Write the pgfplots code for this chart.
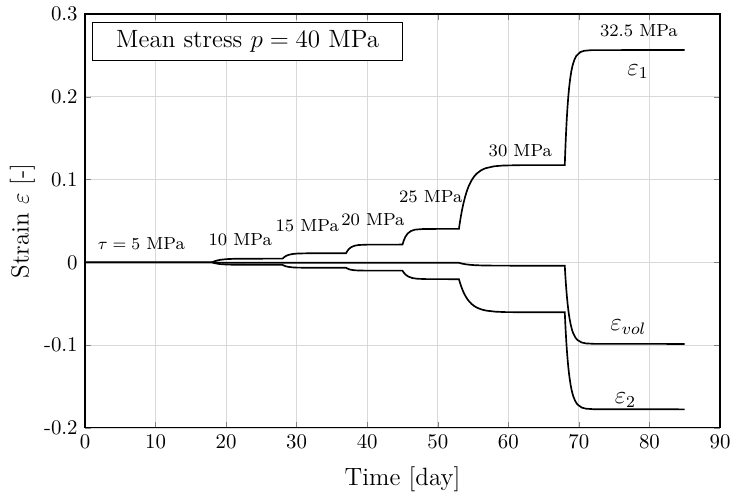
\documentclass[border=0pt]{standalone}
\usepackage{pgfplots}
\pgfplotsset{compat=1.18}
\begin{document}
\begin{tikzpicture}
\begin{axis}[
  scale only axis, width=304.8pt, height=198.7pt,
  xmin=0, xmax=90, ymin=-0.2, ymax=0.3,
  xtick={0,10,...,90},
  ytick={-0.2,-0.1,0,0.1,0.2,0.3},
  yticklabels={-0.2,-0.1,0,0.1,0.2,0.3},
  grid=major, grid style={line width=0.4pt, draw=gray!30},
  tick align=inside, major tick length=2.9pt,
  axis line style={line width=0.5pt},
  xlabel={Time [day]}, ylabel={Strain $\varepsilon$ [-]},
  xlabel shift=2pt, ylabel shift=-2.5pt,
  label style={font=\large},
  tick label style={font=\normalsize},
]
\addplot[black, line width=0.8pt] coordinates {
(0,0) (18,0) (18.3,0.00117) (18.7,0.00227) (19.2,0.00314) (20,0.00389) (21,0.00428) (23,0.00447) (28,0.0045)
(28.21,0.00618) (28.49,0.00777) (28.84,0.00904) (29.4,0.01012) (30.1,0.01068) (31.5,0.01096) (37,0.011)
(37.18,0.01372) (37.42,0.01629) (37.72,0.01834) (38.2,0.02008) (38.8,0.02099) (40,0.02143) (45,0.0215)
(45.18,0.02642) (45.42,0.03106) (45.72,0.03478) (46.2,0.03793) (46.8,0.03955) (48,0.04037) (53,0.0405)
(53.125,0.04783) (53.25,0.05446) (53.4375,0.06324) (53.625,0.07080) (53.875,0.07926) (54.125,0.08619) (54.375,0.09187) (54.75,0.09851) (55.125,0.10343) (55.5,0.10708) (56.125,0.11118) (56.75,0.11367) (58,0.11609) (59.25,0.11698) (61.75,0.11743) (68,0.1175)
(68.055,0.13073) (68.11,0.14270) (68.1925,0.15855) (68.275,0.17220) (68.385,0.18747) (68.495,0.19998) (68.605,0.21023) (68.77,0.22222) (68.935,0.23110) (69.1,0.23769) (69.375,0.24509) (69.65,0.24958) (70.2,0.25396) (70.75,0.25557) (71.85,0.25637) (85,0.2565)
};
\addplot[black, line width=0.8pt] coordinates {
(0,0) (18,0) (18.3,-0.00078) (18.7,-0.00151) (19.2,-0.00210) (20,-0.00259) (21,-0.00285) (23,-0.00298) (28,-0.003)
(28.21,-0.00391) (28.49,-0.00476) (28.84,-0.00545) (29.4,-0.00603) (30.1,-0.00633) (31.5,-0.00648) (37,-0.0065)
(37.18,-0.00741) (37.42,-0.00826) (37.72,-0.00895) (38.2,-0.00953) (38.8,-0.00983) (40,-0.00998) (45,-0.010)
(45.21,-0.01267) (45.49,-0.01519) (45.84,-0.01720) (46.4,-0.01891) (47.1,-0.01979) (48.5,-0.02023) (53,-0.0203)
(53.13,-0.02411) (53.26,-0.02755) (53.455,-0.03211) (53.65,-0.03604) (53.91,-0.04044) (54.17,-0.04404) (54.43,-0.04698) (54.82,-0.05044) (55.21,-0.05299) (55.6,-0.05489) (56.25,-0.05702) (56.9,-0.05831) (58.2,-0.05957) (59.5,-0.06003) (62.1,-0.06026) (68,-0.0603)
(68.06,-0.07146) (68.12,-0.08155) (68.21,-0.09491) (68.3,-0.10642) (68.42,-0.11930) (68.54,-0.12985) (68.66,-0.13848) (68.84,-0.14860) (69.02,-0.15609) (69.2,-0.16164) (69.5,-0.16788) (69.8,-0.17166) (70.4,-0.17536) (71.0,-0.17671) (72.2,-0.17739) (85,-0.1775)
};
\addplot[black, line width=0.8pt] coordinates {
(0,0) (18,0) (19,-0.0003) (21,-0.0005) (53,-0.0005) (53.455,-0.00153) (53.91,-0.00226) (54.43,-0.00283) (55.21,-0.00336) (56.25,-0.00371) (58.2,-0.00394) (62.1,-0.004) (68,-0.004)
(68.06,-0.01300) (68.12,-0.02113) (68.21,-0.03191) (68.3,-0.04119) (68.42,-0.05157) (68.54,-0.06008) (68.66,-0.06704) (68.84,-0.07520) (69.02,-0.08123) (69.2,-0.08571) (69.5,-0.09074) (69.8,-0.09379) (70.4,-0.09677) (71.0,-0.09787) (72.2,-0.09841) (85,-0.0985)
};
\node[draw=black, line width=0.4pt, fill=white, minimum width=148.8pt, minimum height=17.9pt, inner sep=0pt, font=\large] at (axis cs:23.05,0.267) {Mean stress $p=40$ MPa};
\begin{scope}[every node/.style={anchor=base, inner sep=0pt, font=\fontsize{8.4}{10}\selectfont}]
\node at (axis cs:8.0,0.0158) {$\tau=5$ MPa};
\node at (axis cs:22.0,0.0198) {10 MPa};
\node at (axis cs:31.5,0.0371) {15 MPa};
\node at (axis cs:40.8,0.044) {20 MPa};
\node at (axis cs:49.0,0.0726) {25 MPa};
\node at (axis cs:61.7,0.1277) {30 MPa};
\node at (axis cs:78.5,0.2726) {32.5 MPa};
\end{scope}
\begin{scope}[every node/.style={anchor=base, inner sep=0pt, font=\large}]
\node at (axis cs:78.4,0.2263) {$\varepsilon_1$};
\node at (axis cs:77.0,-0.0825) {$\varepsilon_{vol}$};
\node at (axis cs:76.6,-0.1702) {$\varepsilon_2$};
\end{scope}
\end{axis}
\pgfresetboundingbox
\path[use as bounding box] ([shift={(-40.8pt,-32.64pt)}]current axis.south west) rectangle ([shift={(5.28pt,6.72pt)}]current axis.north east);
\end{tikzpicture}
\end{document}
